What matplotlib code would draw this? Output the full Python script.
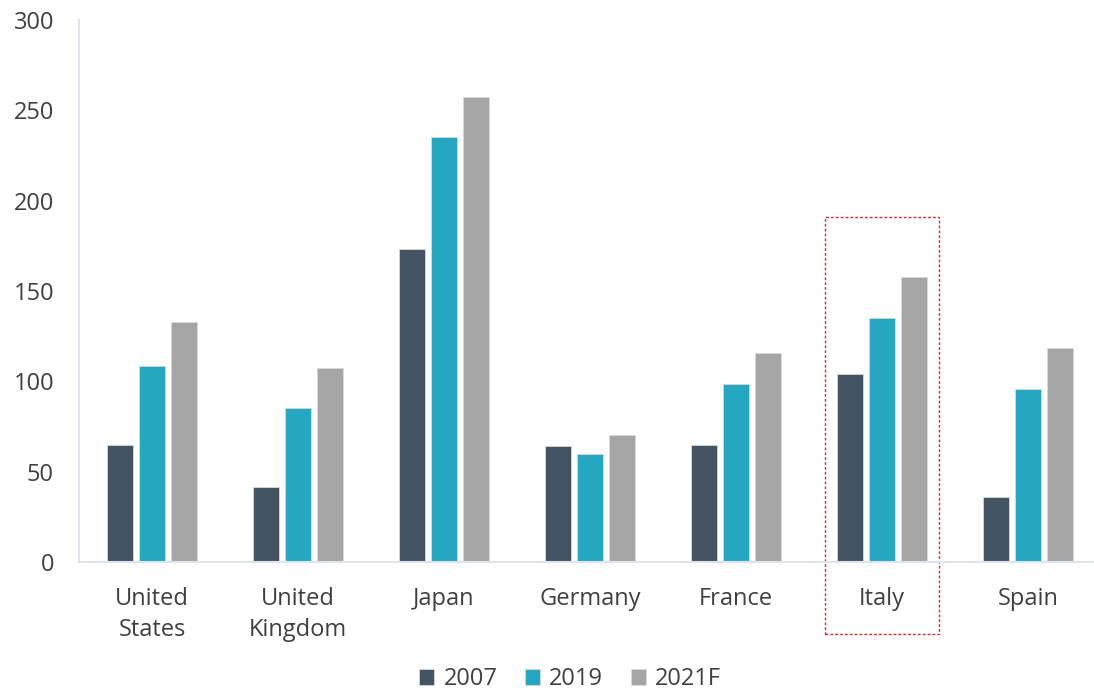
import numpy as np
import matplotlib
matplotlib.use("Agg")
import matplotlib.pyplot as plt
from matplotlib.patches import Rectangle

countries = ["United\nStates", "United\nKingdom", "Japan", "Germany", "France", "Italy", "Spain"]
years = ["2007", "2019", "2021F"]
v2007 = [64.7, 41.5, 173.2, 64.2, 64.7, 104.0, 36.0]
v2019 = [108.5, 85.2, 235.2, 59.8, 98.5, 135.0, 95.7]
v2021 = [132.8, 107.4, 257.3, 70.3, 115.7, 157.7, 118.4]
colors = ["#435364", "#26A7C1", "#A5A5A5"]

plt.rcParams['font.family'] = ['Open Sans', 'DejaVu Sans']

fig = plt.figure(figsize=(10.94, 6.91), dpi=100)
ax = fig.add_axes([79 / 1094, 1 - 562 / 691, 1022 / 1094, 542 / 691])

x = np.arange(len(countries))
width = 0.178
step = 0.219
for i, (vals, c, lab) in enumerate(zip([v2007, v2019, v2021], colors, years)):
    ax.bar(x + (i - 1) * step, vals, width, color=c, label=lab,
           edgecolor="#d9d9d9", linewidth=0.6)

ax.set_xlim(-0.5, len(countries) - 0.5)
ax.set_ylim(0, 300)
ax.set_yticks(range(0, 301, 50))
ax.set_xticks(x)
ax.set_xticklabels(countries, fontsize=17, color="#404040", linespacing=1.4)
ax.tick_params(axis="y", labelsize=17, colors="#404040", length=0, pad=18)
ax.tick_params(axis="x", length=0, pad=18)

for s in ["top", "right"]:
    ax.spines[s].set_visible(False)
ax.spines["left"].set_color("#dfe3ef")
ax.spines["bottom"].set_color("#dfe3ef")
ax.spines["left"].set_linewidth(1.5)
ax.spines["bottom"].set_linewidth(1.5)

# highlight box around Italy
box = Rectangle((5 - 0.39, -40), 0.78, 231, fill=False, edgecolor="#e8232a",
                linestyle=(0, (2, 1.5)), linewidth=1.0, clip_on=False)
ax.add_patch(box)

leg = fig.legend(loc="lower center", bbox_to_anchor=(0.521, -0.031), ncol=3,
                 frameon=False, fontsize=17, handlelength=0.65, handleheight=0.65,
                 columnspacing=1.15, handletextpad=0.4)
for t in leg.get_texts():
    t.set_color("#404040")

fig.savefig("out.png", dpi=100)
